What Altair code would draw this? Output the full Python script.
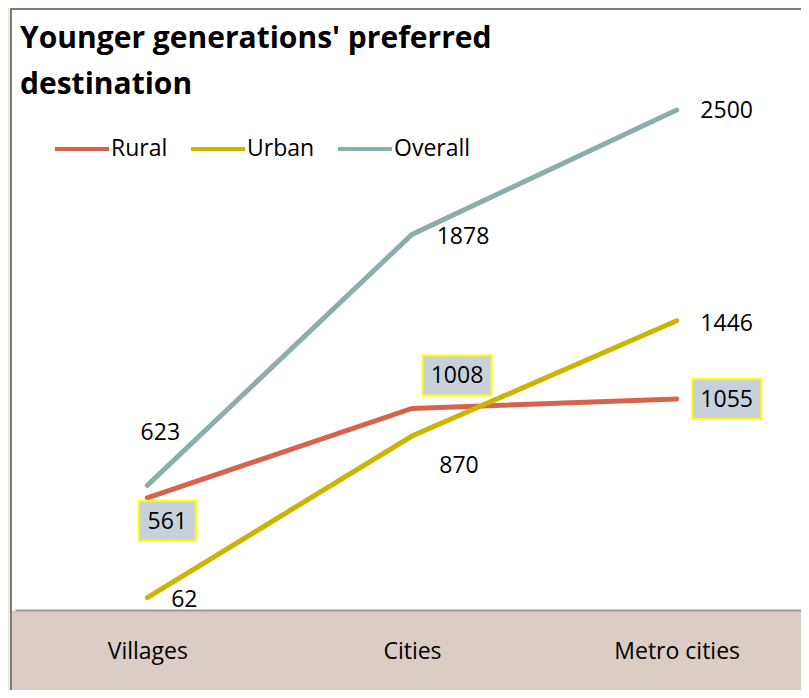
import altair as alt
import pandas as pd

# ---- data ----
categories = ["Villages", "Cities", "Metro cities"]
series = ["Rural", "Urban", "Overall"]
rural = [561, 1008, 1055]
urban = [62, 870, 1446]
overall = [623, 1878, 2500]
title_lines = ["Younger generations' preferred", "destination"]

rows = []
for name, vals in zip(series, [rural, urban, overall]):
    for c, v in zip(categories, vals):
        rows.append({"category": c, "series": name, "value": v})
df = pd.DataFrame(rows)

# ---- style ----
colors = ["#d8624a", "#cdb400", "#8badac"]
FONT = "Open Sans"
BEIGE = "#dacdc5"
BORDER = "#857a73"
OUTER = "#e4ecea"
W, H = 786, 600

# label offsets (dx, dy) relative to point, and whether boxed
label_style = {
    ("Overall", "Villages"): (13, -53, False),
    ("Overall", "Cities"): (51, 2, False),
    ("Overall", "Metro cities"): (50, 0, False),
    ("Urban", "Villages"): (37, 1, False),
    ("Urban", "Cities"): (47, 29, False),
    ("Urban", "Metro cities"): (50, 2, False),
    ("Rural", "Villages"): (20, 23, True),
    ("Rural", "Cities"): (45, -33, True),
    ("Rural", "Metro cities"): (50, 0, True),
}

x_scale = alt.Scale(type="point", padding=0.5, range=[0, 794])
x_enc = alt.X(
    "category:N",
    sort=categories,
    scale=x_scale,
    axis=alt.Axis(
        title=None, domain=True, domainColor="#9a9a9a", domainWidth=2,
        ticks=False, grid=False, labelAngle=0, labelFont=FONT, labelFontSize=23,
        labelColor="black", labelPadding=41, labelBaseline="middle", zindex=1,
    ),
)
y_enc = alt.Y("value:Q", scale=alt.Scale(domain=[0, 3000]), axis=None)

base = alt.Chart(df)
dummy = alt.Chart(pd.DataFrame({"a": [0]}))

band = dummy.mark_rect(color=BEIGE).encode(
    x=alt.value(-3), x2=alt.value(W), y=alt.value(601), y2=alt.value(680)
)
outer_strip = dummy.mark_rect(color=OUTER).encode(
    x=alt.value(-7), x2=alt.value(-5), y=alt.value(-2), y2=alt.value(680)
)
left_border = dummy.mark_rule(color=BORDER, strokeWidth=2).encode(
    x=alt.value(-4), y=alt.value(-2), y2=alt.value(680)
)
top_border = dummy.mark_rule(color=BORDER, strokeWidth=2).encode(
    x=alt.value(-5), x2=alt.value(W), y=alt.value(-1)
)

lines = base.mark_line(strokeWidth=5, strokeCap="round").encode(
    x=x_enc,
    y=y_enc,
    color=alt.Color(
        "series:N",
        sort=series,
        scale=alt.Scale(domain=series, range=colors),
        legend=alt.Legend(
            title=None, orient="none", legendX=38, legendY=110,
            direction="horizontal", symbolType="stroke", symbolSize=2916,
            symbolStrokeWidth=4, labelFont=FONT, labelFontSize=23,
            labelColor="black", labelOffset=0, columnPadding=15, padding=0,
        ),
    ),
)

layers = [band, outer_strip, left_border, top_border, lines]

for (s, c), (dx, dy, boxed) in label_style.items():
    sel = base.transform_filter(
        (alt.datum.series == s) & (alt.datum.category == c)
    )
    if boxed:
        w = 69 if c != "Villages" else 57
        h = 40
        r = h / w
        shape = f"M-1,-{r:.3f}H1V{r:.3f}H-1Z"
        layers.append(
            sel.mark_point(
                shape=shape, size=w * w, filled=True, fill="#c8d1d9",
                stroke="#ffff00", strokeWidth=2, opacity=1,
                xOffset=dx, yOffset=dy,
            ).encode(x=alt.X("category:N", sort=categories, scale=x_scale),
                     y="value:Q")
        )
    layers.append(
        sel.mark_text(
            dx=dx, dy=dy + 1, font=FONT, fontSize=23, color="black",
            align="center", baseline="middle",
        ).encode(x=alt.X("category:N", sort=categories, scale=x_scale),
                 y="value:Q", text="value:Q")
    )

title = dummy.mark_text(
    text=title_lines, align="left", baseline="alphabetic", font=FONT,
    fontSize=30, fontWeight="bold", lineHeight=46, color="black",
).encode(x=alt.value(5), y=alt.value(38))
layers.append(title)

chart = alt.layer(*layers).properties(
    width=W, height=H,
    padding={"left": 7, "top": 2, "right": 0, "bottom": 80},
    autosize=alt.AutoSizeParams(type="none"),
    background="white",
).configure_view(stroke=None, fill="white")

chart.save("out.html", embed_options={"renderer": "svg", "actions": False})
